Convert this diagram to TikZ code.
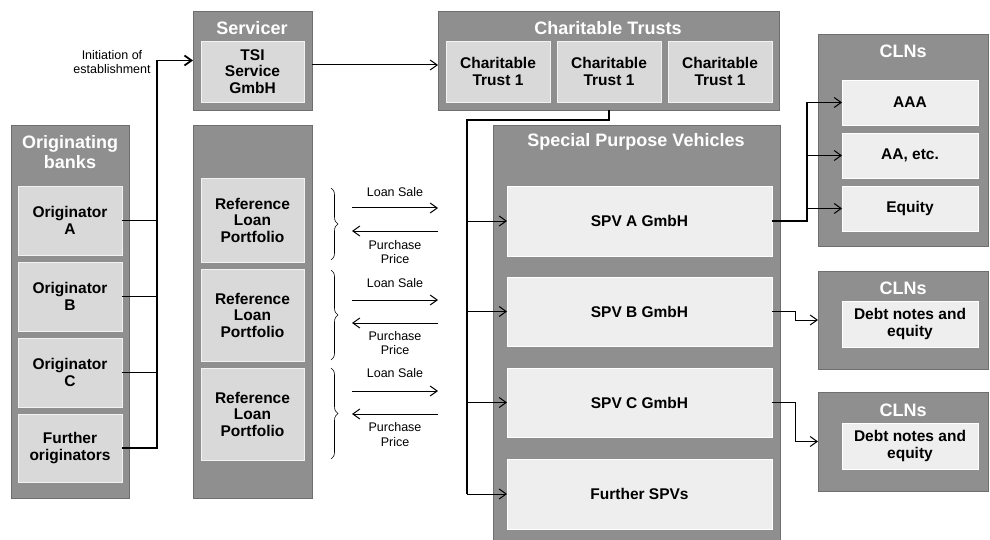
\documentclass[tikz,border=0pt]{standalone}
\usepackage{fontspec}
\setmainfont{Liberation Sans}
\usetikzlibrary{arrows.meta,decorations.pathreplacing}
\definecolor{outerfill}{HTML}{8F8F8F}
\definecolor{outerline}{HTML}{6F6F6F}
\definecolor{innerfill}{HTML}{D9D9D9}
\definecolor{innerline}{HTML}{F2F2F2}
\definecolor{lightfill}{HTML}{EEEEEE}
\definecolor{lightline}{HTML}{FFFFFF}
\begin{document}
\begin{tikzpicture}[x=1pt,y=-1pt,
  outerbox/.style={draw=outerline, fill=outerfill, line width=0.8pt, inner sep=0pt, outer sep=0pt, anchor=north west},
  innerbox/.style={draw=innerline, fill=innerfill, line width=0.8pt, inner sep=0pt, outer sep=0pt, anchor=north west, align=center, font=\bfseries\fontsize{15.5}{16.5}\selectfont},
  lightbox/.style={innerbox, draw=lightline, fill=lightfill},
  title/.style={text=white, align=center, font=\bfseries\fontsize{18}{20}\selectfont, inner sep=0pt},
  lbl/.style={align=center, font=\fontsize{12.5}{14.5}\selectfont, inner sep=0pt},
  trunk/.style={line width=1.8pt},
  branch/.style={line width=1pt},
  tip/.style={-{Straight Barb[length=7pt,width=10pt]}},
  brc/.style={decorate, decoration={brace, amplitude=7pt}, line width=0.6pt}
]
\path[use as bounding box] (0,0) rectangle (990,540);

% Originating banks
\node[outerbox, minimum width=118pt, minimum height=373pt] (orig) at (11,125) {};
\node[title] (origt) at (70,152) {Originating\\banks};
\node[innerbox, minimum width=104pt, minimum height=69pt] (oA) at (18,186) {Originator\\A};
\node[innerbox, minimum width=104pt, minimum height=69pt] (oB) at (18,262) {Originator\\B};
\node[innerbox, minimum width=104pt, minimum height=69pt] (oC) at (18,338) {Originator\\C};
\node[innerbox, minimum width=104pt, minimum height=68pt] (oF) at (18,414) {Further\\originators};

% Servicer
\node[outerbox, minimum width=119pt, minimum height=99pt] (serv) at (193,11) {};
\node[title] (servt) at (252,28) {Servicer};
\node[innerbox, minimum width=103pt, minimum height=61pt] (tsi) at (201,41) {TSI\\Service\\GmbH};

% Reference portfolios
\node[outerbox, minimum width=119pt, minimum height=373pt] (ref) at (193,125) {};
\node[innerbox, minimum width=103pt, minimum height=84pt] (r1) at (201,178) {Reference\\Loan\\Portfolio};
\node[innerbox, minimum width=103pt, minimum height=92pt] (r2) at (201,269) {Reference\\Loan\\Portfolio};
\node[innerbox, minimum width=103pt, minimum height=92pt] (r3) at (201,368) {Reference\\Loan\\Portfolio};

% Charitable trusts
\node[outerbox, minimum width=341pt, minimum height=99pt] (ct) at (438,11) {};
\node[title] (ctt) at (608,28) {Charitable Trusts};
\node[innerbox, minimum width=104pt, minimum height=61pt] (ct1) at (446,41) {Charitable\\Trust 1};
\node[innerbox, minimum width=104pt, minimum height=61pt] (ct2) at (557,41) {Charitable\\Trust 1};
\node[innerbox, minimum width=104pt, minimum height=61pt] (ct3) at (668,41) {Charitable\\Trust 1};

% SPVs
\node[outerbox, minimum width=287pt, minimum height=416pt] (spv) at (493,125) {};
\node[title] (spvt) at (636,142) {Special Purpose Vehicles};
\node[lightbox, minimum width=265pt, minimum height=70pt] (sA) at (507,186) {SPV A GmbH};
\node[lightbox, minimum width=265pt, minimum height=69pt] (sB) at (507,277) {SPV B GmbH};
\node[lightbox, minimum width=265pt, minimum height=69pt] (sC) at (507,368) {SPV C GmbH};
\node[lightbox, minimum width=265pt, minimum height=70pt] (sF) at (507,459) {Further SPVs};

% CLNs
\node[outerbox, minimum width=170pt, minimum height=212pt] (cln1) at (818,34) {};
\node[title] (cln1t) at (903,51) {CLNs};
\node[lightbox, minimum width=136pt, minimum height=45pt] (c1a) at (842,80) {AAA};
\node[lightbox, minimum width=136pt, minimum height=45pt] (c1b) at (842,133) {AA, etc.};
\node[lightbox, minimum width=136pt, minimum height=45pt] (c1c) at (842,186) {Equity};

\node[outerbox, minimum width=170pt, minimum height=98pt] (cln2) at (818,271) {};
\node[title] (cln2t) at (903,288) {CLNs};
\node[lightbox, minimum width=136pt, minimum height=46pt] (c2) at (842,301) {Debt notes and\\equity};

\node[outerbox, minimum width=170pt, minimum height=99pt] (cln3) at (818,392) {};
\node[title] (cln3t) at (903,410) {CLNs};
\node[lightbox, minimum width=136pt, minimum height=46pt] (c3) at (842,423) {Debt notes and\\equity};

% Originators -> Servicer
\node[lbl] (init) at (112,62) {Initiation of\\establishment};
\coordinate (oj) at (157,0);
\draw[trunk,tip] (oF.east) -| (oj |- serv.west) -- (serv.west);
\foreach \n in {oA,oB,oC} \draw[trunk] (\n.east) -- (\n.east -| oj);

% Servicer -> Charitable trusts
\draw[branch,tip] ([yshift=-4.5pt]serv.east) -- ([yshift=-4.5pt]ct.west);

% Charitable trust -> SPVs
\coordinate (sj) at (467,120);
\draw[trunk] (ct2.south |- ct.south) |- (sj) -- (sj |- sF.west);
\foreach \s in {sA,sB,sC,sF} \draw[branch,tip] (sj |- \s.west) -- (\s.west);

% SPV A -> CLNs
\coordinate (cj) at (807,0);
\draw[trunk] (sA.east) -- (sA.east -| cj) -- (cj |- c1a.west);
\foreach \c in {c1a,c1b,c1c} \draw[branch,tip] (cj |- \c.west) -- (\c.west);

% SPV B, C -> CLNs
\coordinate (bj) at (795,0);
\draw[branch,tip] (sB.east) -| (bj |- cln2.west) -- (cln2.west);
\draw[branch,tip] (sC.east) -| (bj |- cln3.west) -- (cln3.west);

% Loan sale / purchase price
\foreach \i/\top/\bot/\ls/\ra/\la/\pp in {1/188/260/192/208/231/252, 2/270/360/283/300/323/343, 3/368/459/373/391/414/434.5} {
  \draw[brc] (331,\top) -- (331,\bot);
  \node[lbl] (ls\i) at (395,\ls) {Loan Sale};
  \coordinate (ra\i) at (352,\ra);
  \coordinate (rb\i) at (438,\ra);
  \coordinate (la\i) at (438,\la);
  \coordinate (lb\i) at (352,\la);
  \draw[branch,tip] (ra\i) -- (rb\i);
  \draw[branch,tip] (la\i) -- (lb\i);
  \node[lbl] (pp\i) at (395,\pp) {Purchase\\Price};
}
\end{tikzpicture}
\end{document}
